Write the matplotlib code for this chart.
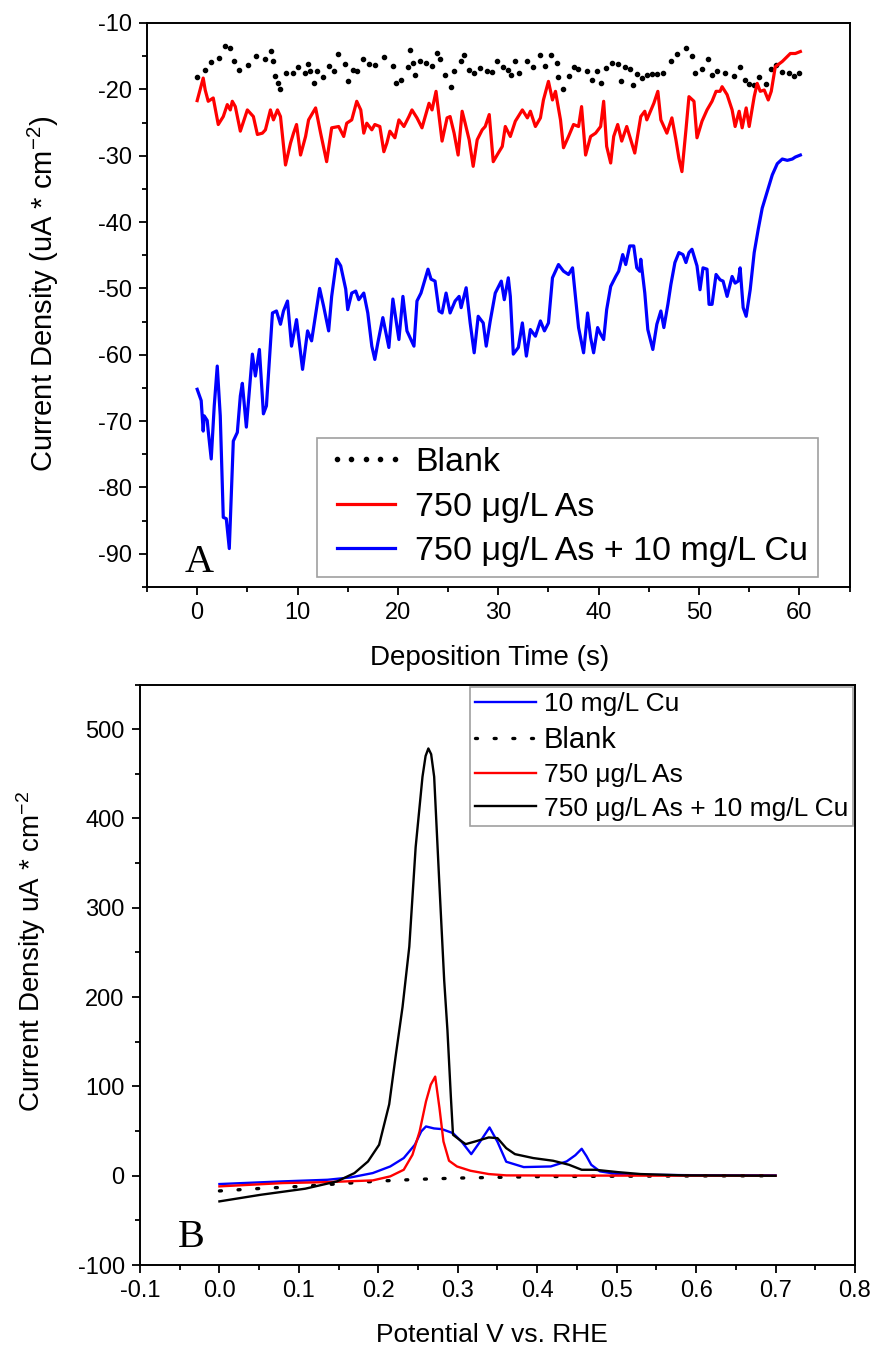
import numpy as np
import matplotlib
matplotlib.use("Agg")
import matplotlib.pyplot as plt
from matplotlib.ticker import MultipleLocator

plt.rcParams['font.family'] = ['Liberation Sans', 'DejaVu Sans']
plt.rcParams['axes.unicode_minus'] = False
plt.rcParams['mathtext.fontset'] = 'custom'
plt.rcParams['mathtext.rm'] = 'Liberation Sans'
plt.rcParams['mathtext.it'] = 'Liberation Sans:italic'

#------------------------------------------------------------------------------
# Panel A : current density during deposition
#------------------------------------------------------------------------------
blank_t = [0.0, 0.8, 1.4, 2.2, 2.8, 3.3, 3.7, 4.2, 5.1, 5.9, 6.8, 7.4, 7.6, 7.8, 8.1, 8.3,
           8.9, 9.5, 10.0, 10.7, 11.0, 11.2, 11.6, 11.9, 12.5, 13.1, 13.6, 14.0, 14.7, 15.0,
           15.5, 15.9, 16.5, 17.1, 17.7, 18.6, 19.5, 19.8, 20.3, 21.0, 21.2, 21.5, 21.7, 22.2,
           22.8, 23.4, 23.9, 24.2, 24.7, 25.3, 25.6, 26.3, 26.6, 27.1, 27.6, 28.2, 28.9, 29.4,
           29.9, 30.5, 31.0, 31.3, 31.7, 32.1, 32.9, 33.5, 34.2, 34.7, 35.3, 35.9, 36.0, 36.4,
           37.0, 37.5, 37.9, 38.8, 39.3, 39.8, 40.2, 40.7, 41.3, 41.9, 42.2, 42.6, 43.1, 43.4,
           43.8, 44.3, 44.8, 45.3, 45.8, 46.4, 47.2, 47.8, 48.7, 49.3, 49.6, 50.3, 50.9, 51.3,
           51.8, 52.6, 53.5, 54.1, 54.6, 55.0, 55.5, 56.0, 56.7, 57.2, 57.7, 58.3, 59.0, 59.5, 60.0]
blank_j = [-18.2, -17.1, -15.9, -15.3, -13.4, -13.7, -15.8, -17.1, -16.3, -14.9, -15.4, -14.2,
           -15.7, -18.0, -19.0, -20.0, -17.6, -17.6, -16.7, -17.6, -16.2, -17.2, -19.1, -17.3,
           -18.2, -16.5, -17.2, -14.7, -16.2, -18.8, -17.1, -17.2, -15.5, -16.2, -16.3, -15.2,
           -16.5, -19.1, -18.6, -16.6, -14.1, -16.1, -17.8, -15.7, -16.0, -16.5, -14.5, -15.5,
           -17.8, -19.7, -17.2, -15.8, -14.8, -17.1, -17.6, -16.8, -17.3, -17.4, -15.7, -16.7,
           -17.1, -17.8, -15.8, -17.6, -15.8, -16.7, -14.8, -16.5, -14.8, -16.1, -18.2, -20.0,
           -18.0, -16.7, -17.0, -17.2, -18.6, -17.2, -19.0, -16.8, -16.0, -16.2, -18.7, -16.7,
           -17.0, -19.4, -17.7, -18.3, -17.8, -17.7, -17.7, -17.5, -15.8, -14.7, -13.7, -14.9,
           -17.5, -17.0, -15.5, -17.8, -17.2, -17.5, -18.0, -16.7, -18.6, -19.2, -19.3, -18.2,
           -19.2, -17.0, -16.3, -17.4, -17.6, -18.0, -17.5]

as_t = [0.0, 0.6, 0.8, 1.1, 1.6, 2.1, 2.6, 3.0, 3.3, 3.5, 3.8, 4.3, 5.0, 5.3, 5.6, 6.0, 6.5,
        6.8, 7.3, 7.6, 8.0, 8.3, 8.8, 9.3, 9.6, 9.9, 10.3, 10.8, 11.1, 11.8, 12.3, 12.9, 13.4,
        14.1, 14.6, 14.9, 15.4, 15.9, 16.3, 16.6, 16.9, 17.4, 17.7, 18.2, 18.6, 18.9, 19.2,
        19.7, 20.1, 20.6, 21.1, 21.4, 21.9, 22.4, 23.1, 23.4, 23.8, 24.4, 24.9, 25.2, 25.6,
        26.0, 26.4, 26.7, 27.1, 27.5, 27.9, 28.4, 28.7, 29.1, 29.5, 30.0, 30.4, 30.7, 31.2,
        31.7, 32.4, 32.9, 33.2, 33.7, 34.2, 34.5, 35.0, 35.4, 35.7, 36.2, 36.5, 37.0, 37.5,
        38.0, 38.3, 38.7, 39.2, 39.7, 40.2, 40.5, 40.8, 41.2, 41.5, 41.9, 42.3, 42.8, 43.2,
        43.6, 44.2, 44.6, 44.8, 45.5, 45.9, 46.2, 46.8, 47.3, 47.7, 48.0, 48.3, 48.7, 49.0,
        49.5, 49.8, 50.3, 50.8, 51.3, 51.7, 52.1, 52.3, 52.8, 53.3, 53.6, 54.0, 54.3, 54.7,
        55.0, 55.5, 55.8, 56.1, 56.5, 56.9, 57.2, 57.6, 58.3, 59.1, 59.6, 60.1]
as_j = [-21.7, -18.3, -20.1, -21.8, -21.3, -25.3, -24.1, -22.3, -23.1, -21.8, -22.6, -26.3,
        -23.1, -23.6, -24.1, -26.8, -26.6, -26.1, -23.1, -24.6, -23.1, -24.1, -31.4, -28.1,
        -26.6, -25.3, -29.9, -27.1, -24.6, -22.8, -26.6, -30.9, -25.8, -25.6, -27.1, -25.1,
        -24.6, -21.8, -23.1, -26.6, -25.1, -26.1, -25.3, -25.6, -29.4, -28.1, -26.3, -27.3,
        -24.6, -25.6, -24.1, -23.1, -24.3, -25.8, -22.1, -23.1, -20.3, -27.8, -24.3, -24.1,
        -26.6, -29.9, -23.3, -25.1, -27.6, -31.6, -27.6, -26.1, -25.6, -23.8, -30.9, -29.6,
        -28.6, -25.6, -27.1, -24.8, -23.1, -24.3, -23.3, -25.6, -24.3, -21.6, -18.8, -21.6,
        -20.3, -24.6, -28.8, -27.1, -25.3, -25.6, -22.6, -29.9, -27.1, -26.6, -25.6, -21.8,
        -28.6, -31.1, -27.1, -25.3, -27.8, -25.6, -27.6, -29.6, -24.1, -23.3, -24.6, -22.1,
        -20.3, -24.6, -26.6, -24.3, -27.6, -30.4, -32.4, -26.1, -21.1, -21.8, -27.3, -24.8,
        -23.1, -21.8, -20.3, -20.3, -19.6, -20.8, -23.1, -25.6, -23.3, -25.8, -22.8, -25.6,
        -21.1, -19.1, -20.3, -20.1, -21.6, -20.3, -16.6, -15.8, -14.6, -14.6, -14.3]

ascu_t = [0.0, 0.4, 0.6, 0.7, 1.0, 1.1, 1.4, 1.7, 2.0, 2.3, 2.6, 2.9, 3.2, 3.6, 4.0, 4.3,
          4.5, 4.9, 5.5, 5.8, 6.2, 6.6, 6.9, 7.5, 7.9, 8.3, 8.6, 9.0, 9.4, 9.9, 10.5, 11.0,
          11.4, 12.2, 12.6, 13.1, 13.4, 13.9, 14.3, 14.8, 15.0, 15.4, 15.8, 16.1, 16.6, 17.0,
          17.4, 17.7, 18.0, 18.5, 19.1, 19.5, 19.8, 20.1, 20.5, 20.9, 21.6, 21.9, 22.3, 23.0,
          23.3, 23.7, 24.1, 24.4, 24.8, 25.2, 25.7, 26.1, 26.3, 26.8, 27.2, 27.6, 28.0, 28.5,
          28.8, 29.2, 29.7, 30.3, 30.6, 31.0, 31.2, 31.5, 32.0, 32.4, 32.8, 33.2, 33.7, 34.2,
          34.6, 35.0, 35.4, 36.0, 36.5, 37.0, 37.4, 38.0, 38.5, 38.9, 39.2, 39.5, 39.9, 40.2,
          40.5, 40.8, 41.2, 41.7, 42.0, 42.4, 42.7, 43.1, 43.5, 43.8, 44.1, 44.2, 44.6, 44.9,
          45.4, 45.8, 46.2, 46.5, 46.9, 47.2, 47.6, 48.0, 48.4, 48.7, 49.0, 49.3, 49.8, 50.1,
          50.4, 50.8, 51.0, 51.3, 51.7, 52.1, 52.4, 52.8, 53.3, 53.6, 53.9, 54.1, 54.4, 54.7,
          55.1, 55.5, 55.9, 56.3, 56.8, 57.3, 57.8, 58.3, 58.8, 59.3, 59.6, 60.1]
ascu_j = [-65.2, -66.9, -71.5, -69.2, -69.9, -71.5, -75.7, -67.7, -61.7, -69.2, -84.5, -84.7,
          -89.2, -73.0, -71.7, -66.2, -64.3, -70.9, -59.9, -63.2, -59.2, -68.9, -67.7, -53.7,
          -53.4, -55.4, -53.4, -51.9, -58.7, -54.7, -62.2, -56.4, -57.9, -50.0, -52.7, -56.4,
          -51.2, -45.6, -46.6, -50.1, -53.2, -50.7, -50.4, -51.7, -50.7, -53.7, -58.7, -60.7,
          -58.2, -54.4, -58.9, -51.6, -54.7, -57.7, -51.2, -56.4, -58.7, -51.9, -50.7, -47.1,
          -48.6, -48.9, -53.4, -53.7, -50.7, -53.7, -51.9, -51.2, -52.9, -49.9, -55.2, -59.7,
          -54.2, -55.2, -58.7, -54.9, -50.7, -48.9, -51.7, -48.4, -51.2, -59.9, -58.9, -55.2,
          -60.2, -56.2, -57.2, -54.9, -56.4, -55.2, -48.4, -46.4, -47.4, -47.9, -46.9, -55.9,
          -59.7, -53.7, -57.4, -59.7, -55.9, -56.9, -57.7, -53.2, -49.7, -48.2, -47.4, -44.9,
          -46.4, -43.6, -43.6, -46.9, -47.4, -45.6, -50.7, -56.2, -59.2, -55.4, -53.4, -55.9,
          -52.4, -49.4, -46.1, -44.6, -44.9, -46.1, -44.6, -44.1, -46.6, -50.2, -46.9, -47.1,
          -52.4, -52.4, -47.9, -48.7, -48.9, -51.2, -48.2, -49.2, -48.9, -46.9, -52.9, -54.2,
          -50.2, -44.6, -41.1, -37.9, -35.4, -32.9, -31.2, -30.5, -30.7, -30.5, -30.2, -29.9]

#------------------------------------------------------------------------------
# Panel B : stripping scans
#------------------------------------------------------------------------------
cu_v = [0.0, 0.08, 0.136, 0.165, 0.193, 0.215, 0.232, 0.246, 0.254, 0.26, 0.27, 0.28, 0.294,
        0.305, 0.317, 0.328, 0.34, 0.35, 0.361, 0.383, 0.417, 0.437, 0.448, 0.456, 0.462,
        0.468, 0.479, 0.5, 0.53, 0.6, 0.7]
cu_j = [-9.3, -6.3, -4.5, -1.9, 3.0, 10.4, 19.8, 34.7, 49.6, 55.2, 53.0, 52.2, 47.7,
        38.0, 24.2, 38.0, 54.1, 38.0, 15.7, 9.7, 10.4, 16.0, 23.0, 30.2, 22.0,
        12.3, 4.9, 2.0, 1.1, 0.6, 0.4]

blank_v = [0.0, 0.05, 0.1, 0.15, 0.2, 0.25, 0.3, 0.35, 0.4, 0.5, 0.6, 0.7]
blank_b = [-17.0, -14.3, -12.0, -9.0, -6.0, -4.0, -2.6, -1.8, -1.0, -0.5, -0.2, 0.0]

as_v = [0.0, 0.08, 0.136, 0.193, 0.215, 0.232, 0.243, 0.252, 0.26, 0.266, 0.2716, 0.277,
        0.282, 0.289, 0.299, 0.316, 0.339, 0.361, 0.45, 0.55, 0.7]
as_b = [-11.9, -8.2, -7.1, -5.2, -0.7, 6.7, 23.5, 49.6, 83.2, 102.0, 111.0, 75.7,
        38.4, 16.8, 10.4, 5.6, 1.9, 0.4, 0.2, 0.1, 0.0]

ascu_v = [0.0, 0.052, 0.108, 0.148, 0.17, 0.187, 0.201, 0.2137, 0.222, 0.2305, 0.239, 0.247,
          0.2556, 0.2595, 0.263, 0.2665, 0.2703, 0.2766, 0.2829, 0.287, 0.2913, 0.294, 0.305,
          0.31, 0.322, 0.339, 0.35, 0.361, 0.372, 0.395, 0.42, 0.44, 0.456, 0.473, 0.501,
          0.53, 0.586, 0.7]
ascu_b = [-28.7, -21.3, -14.5, -6.3, 3.0, 16.0, 34.7, 80.0, 135.0, 189.0, 256.5, 368.0,
          446.7, 470.0, 478.4, 472.0, 446.7, 331.0, 219.0, 163.0, 88.7, 45.9, 38.4,
          35.4, 38.4, 42.9, 42.1, 30.9, 24.2, 19.8, 16.8, 12.3, 6.7, 6.7, 4.1,
          1.9, 0.4, 0.0]

#------------------------------------------------------------------------------
# Figure
#------------------------------------------------------------------------------
fig = plt.figure(figsize=(8.76, 13.52), dpi=100)
axA = fig.add_axes([0.1678, 0.5658, 0.802, 0.4172])
axB = fig.add_axes([0.1598, 0.0643, 0.8162, 0.4294])

for ax in (axA, axB):
	for s in ax.spines.values():
		s.set_linewidth(1.4)
	ax.tick_params(which='major', direction='out', length=6, width=1.3, labelsize=17, pad=5)
	ax.tick_params(which='minor', direction='out', length=3.5, width=1.3)

# Panel A
axA.plot(blank_t, blank_j, linestyle='none', marker='o', ms=3, color='black', label='Blank')
axA.plot(as_t, as_j, color='#ff0000', lw=2.3, label='750 \u03bcg/L As')
axA.plot(ascu_t, ascu_j, color='#0000ff', lw=2.3, label='750 \u03bcg/L As + 10 mg/L Cu')
axA.set_xlim(-5, 65)
axA.set_ylim(-95, -10)
axA.xaxis.set_major_locator(MultipleLocator(10))
axA.xaxis.set_minor_locator(MultipleLocator(5))
axA.yaxis.set_major_locator(MultipleLocator(10))
axA.yaxis.set_minor_locator(MultipleLocator(5))
axA.set_xticks([0, 10, 20, 30, 40, 50, 60])
axA.set_xlabel('Deposition Time (s)', fontsize=20)
axA.set_ylabel('Current Density (uA * cm$^{-2}$)', fontsize=21)
axA.xaxis.set_label_coords(0.488, -0.103)
axA.yaxis.set_label_coords(-0.122, 0.52)
legA = axA.legend(loc='lower left', bbox_to_anchor=(0.242, 0.018), borderaxespad=0,
                  fontsize=24.5, numpoints=5, handlelength=2.3, handletextpad=0.3,
                  labelspacing=0.4, borderpad=0.28, fancybox=False, framealpha=1,
                  edgecolor='#a0a0a0')
legA.get_frame().set_linewidth(1.2)
axA.text(0.053, 0.027, 'A', transform=axA.transAxes, fontsize=29,
         family='Liberation Serif', va='baseline')

# Panel B
axB.plot(cu_v, cu_j, color='#0000ff', lw=1.7, label='10 mg/L Cu')
axB.plot(blank_v, blank_b, color='black', lw=2.4, linestyle=(0, (0.6, 5)),
         dash_capstyle='round', label='Blank')
axB.plot(as_v, as_b, color='#ff0000', lw=1.7, label='750 \u03bcg/L As')
axB.plot(ascu_v, ascu_b, color='black', lw=1.7, label='750 \u03bcg/L As + 10 mg/L Cu')
axB.set_xlim(-0.1, 0.8)
axB.set_ylim(-100, 550)
axB.xaxis.set_major_locator(MultipleLocator(0.1))
axB.xaxis.set_minor_locator(MultipleLocator(0.05))
axB.yaxis.set_major_locator(MultipleLocator(100))
axB.yaxis.set_minor_locator(MultipleLocator(50))
xt = np.round(np.arange(-0.1, 0.81, 0.1), 1)
axB.set_xticks(xt)
axB.set_xticklabels(['%.1f' % v for v in xt])
axB.set_xlabel('Potential V vs. RHE', fontsize=19)
axB.set_ylabel('Current Density uA * cm$^{-2}$', fontsize=20)
axB.xaxis.set_label_coords(0.492, -0.1)
axB.yaxis.set_label_coords(-0.128, 0.54)
legB = axB.legend(loc='upper left', bbox_to_anchor=(0.4615, 0.996), borderaxespad=0,
                  fontsize=19, handlelength=2.3, handletextpad=0.3, labelspacing=0.36,
                  borderpad=0.2, fancybox=False, framealpha=1, edgecolor='#a0a0a0')
legB.get_frame().set_linewidth(1.2)
legB.get_texts()[1].set_fontsize(21)
axB.text(0.053, 0.031, 'B', transform=axB.transAxes, fontsize=29,
         family='Liberation Serif', va='baseline')

fig.savefig('out.png', dpi=100)
